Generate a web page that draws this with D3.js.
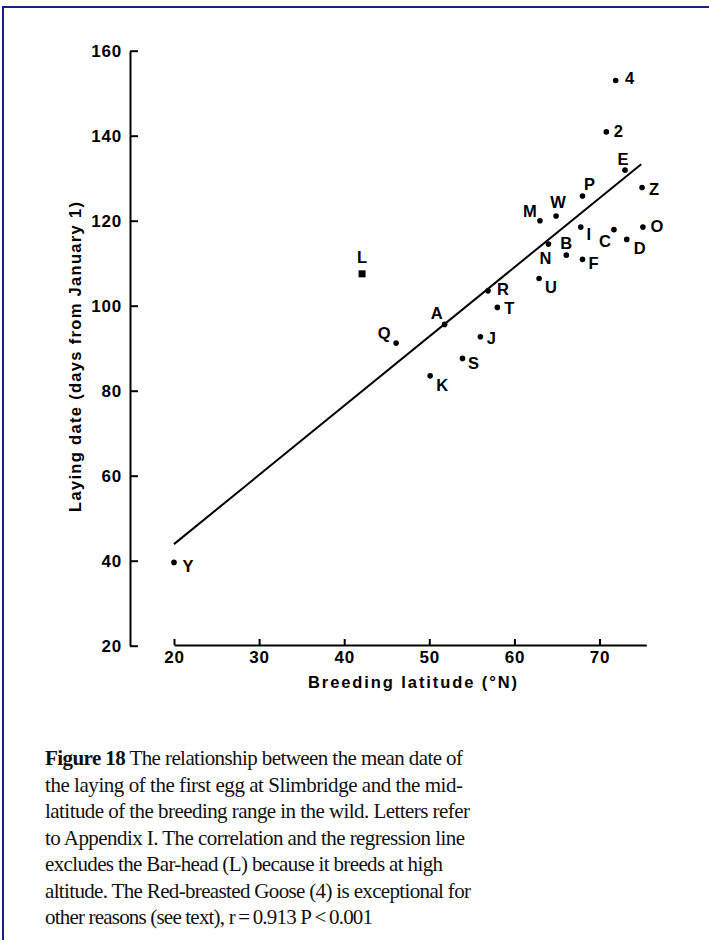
<!DOCTYPE html>
<html>
<head>
<meta charset="utf-8">
<script src="https://cdn.jsdelivr.net/npm/d3@7"></script>
<style>
  html, body { margin: 0; padding: 0; background: #fff; }
  svg { display: block; }
</style>
</head>
<body>
<script>
// ---- data ----
const species   = ["4", "2", "E", "Z", "P", "W", "M", "I", "C", "O", "D", "N", "B", "F", "U", "R", "T", "A", "Q", "J", "S", "K", "Y"];
const latitude  = [71.9, 70.8, 73.0, 75.0, 68.0, 64.9, 63.0, 67.8, 71.7, 75.1, 73.2, 64.0, 66.1, 68.0, 62.9, 56.9, 58.0, 51.8, 46.1, 56.0, 53.9, 50.1, 20.0];
const layingDay = [153.0, 140.9, 131.9, 127.8, 125.8, 121.1, 120.0, 118.5, 117.9, 118.5, 115.6, 114.5, 111.9, 110.9, 106.4, 103.5, 99.6, 95.6, 91.2, 92.7, 87.6, 83.5, 39.6];
// Bar-head goose (excluded from regression), drawn as a square
const excludedLabel = ["L"];
const excludedLat   = [42.1];
const excludedDay   = [107.5];
// regression line end points [latitude, day]
const regressionLat = [20, 74.9];
const regressionDay = [43.9, 133.3];
const xTicks = [20, 30, 40, 50, 60, 70];
const yTicks = [20, 40, 60, 80, 100, 120, 140, 160];
const xTitle = "Breeding latitude (°N)";
const yTitle = "Laying date (days from January 1)";
const captionLines = [
  ["Figure 18", " The relationship between the mean date of"],
  ["", "the laying of the first egg at Slimbridge and the mid-"],
  ["", "latitude of the breeding range in the wild. Letters refer"],
  ["", "to Appendix I. The correlation and the regression line"],
  ["", "excludes the Bar-head (L) because it breeds at high"],
  ["", "altitude. The Red-breasted Goose (4) is exceptional for"],
  ["", "other reasons (see text), r\u2009=\u20090.913 P\u2009<\u20090.001"]
];

// ---- layout (label placement relative to the point, in px) ----
const labelDx = [14, 12, -2, 12, 7, 2, -10, 8, -9, 14, 13, -3, 0, 11, 12, 15, 12, -8, -12, 11, 11, 12, 14];
const labelDy = [-2, -1, -11, 1, -12, -14, -10, 7, 11, -1, 9, 14, -12, 4, 8, -2, 1, -11, -10, 1, 5, 9, 4];
const excludedDx = [0], excludedDy = [-17];
const captionRight = [463, 463, 470, 465, 443, 471, 373];

const W = 709, H = 940;
const svg = d3.select("body").append("svg").attr("width", W).attr("height", H);

// frame
svg.append("path").attr("d", `M3,${H} V7 H${W}`).attr("fill", "none")
  .attr("stroke", "#1a1f85").attr("stroke-width", 2);

const x = d3.scaleLinear().domain([20, 75.5]).range([174, 174 + 55.5 * 8.51]);
const y = d3.scaleLinear().domain([20, 160]).range([645.7, 50.7]);

const sans = "'Liberation Sans', Arial, Helvetica, sans-serif";

// y axis (offset to the left of the x origin)
const gy = svg.append("g").attr("transform", "translate(130,0)")
  .call(d3.axisLeft(y).tickValues(yTicks).tickSizeInner(-8).tickSizeOuter(0).tickPadding(8));
// x axis
const gx = svg.append("g").attr("transform", "translate(0,645)")
  .call(d3.axisBottom(x).tickValues(xTicks).tickSizeInner(-6).tickSizeOuter(0).tickPadding(6));

[gx, gy].forEach(g => {
  g.select(".domain").attr("stroke", "#000").attr("stroke-width", 2);
  g.selectAll(".tick line").attr("stroke", "#000").attr("stroke-width", 2);
  g.selectAll(".tick text").attr("fill", "#000")
    .style("font-family", sans).style("font-weight", "bold")
    .style("font-size", "17px").style("letter-spacing", "0.8px");
});

// axis titles
svg.append("text").attr("x", 412.5).attr("y", 688).attr("text-anchor", "middle")
  .attr("textLength", 209).attr("lengthAdjust", "spacing")
  .style("font-family", sans).style("font-weight", "bold").style("font-size", "16.5px")
  .text(xTitle);
svg.append("text").attr("transform", "translate(81,357) rotate(-90)").attr("text-anchor", "middle")
  .attr("textLength", 310).attr("lengthAdjust", "spacing")
  .style("font-family", sans).style("font-weight", "bold").style("font-size", "16.5px")
  .text(yTitle);

// regression line
const line = d3.line().x(d => x(d[0])).y(d => y(d[1]));
svg.append("path").datum(regressionLat.map((v, i) => [v, regressionDay[i]]))
  .attr("d", line).attr("fill", "none").attr("stroke", "#000").attr("stroke-width", 2);

// points
const pts = species.map((s, i) => ({ s, lat: latitude[i], day: layingDay[i], dx: labelDx[i], dy: labelDy[i] }));
svg.append("g").selectAll("circle").data(pts).join("circle")
  .attr("cx", d => x(d.lat)).attr("cy", d => y(d.day)).attr("r", 2.8).attr("fill", "#000");
svg.append("g").selectAll("text").data(pts).join("text")
  .attr("x", d => x(d.lat) + d.dx).attr("y", d => y(d.day) + d.dy)
  .attr("text-anchor", "middle").attr("dominant-baseline", "central")
  .style("font-family", sans).style("font-weight", "bold").style("font-size", "16.5px")
  .text(d => d.s);

// excluded (Bar-head) point as a square
const ex = excludedLabel.map((s, i) => ({ s, lat: excludedLat[i], day: excludedDay[i], dx: excludedDx[i], dy: excludedDy[i] }));
svg.append("g").selectAll("rect").data(ex).join("rect")
  .attr("x", d => x(d.lat) - 3.5).attr("y", d => y(d.day) - 3.5).attr("width", 7).attr("height", 7).attr("fill", "#000");
svg.append("g").selectAll("text").data(ex).join("text")
  .attr("x", d => x(d.lat) + d.dx).attr("y", d => y(d.day) + d.dy)
  .attr("text-anchor", "middle").attr("dominant-baseline", "central")
  .style("font-family", sans).style("font-weight", "bold").style("font-size", "16.5px")
  .text(d => d.s);

// caption
const serif = "'Liberation Serif', 'Times New Roman', serif";
const cap = svg.append("g");
captionLines.forEach((ln, i) => {
  const t = cap.append("text").attr("x", 45).attr("y", 765 + i * 26.5)
    .attr("textLength", captionRight[i] - 45).attr("lengthAdjust", "spacing")
    .style("font-family", serif).style("font-size", "21px").attr("fill", "#111");
  if (ln[0]) t.append("tspan").style("font-weight", "bold").text(ln[0]);
  t.append("tspan").text(ln[1]);
});
</script>
</body>
</html>
